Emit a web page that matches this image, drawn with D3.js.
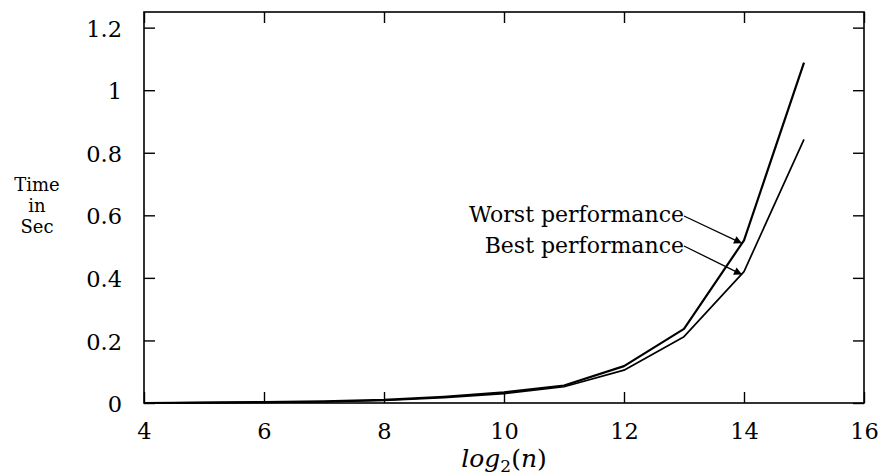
<!DOCTYPE html>
<html>
<head>
<meta charset="utf-8">
<script src="https://cdn.jsdelivr.net/npm/d3@7"></script>
<style>
  html, body { margin: 0; padding: 0; background: #fff; }
  svg { display: block; }
  text { font-family: "DejaVu Serif", "Liberation Serif", serif; fill: #000; }
</style>
</head>
<body>
<script>
// ---- data ----
const xValues = [4, 5, 6, 7, 8, 9, 10, 11, 12, 13, 14, 15];
const worstTimes = [0, 0.001, 0.003, 0.005, 0.010, 0.020, 0.034, 0.056, 0.118, 0.237, 0.520, 1.088];
const bestTimes  = [0, 0.001, 0.002, 0.004, 0.008, 0.017, 0.030, 0.052, 0.105, 0.212, 0.420, 0.843];
const xTicks = [4, 6, 8, 10, 12, 14, 16];
const yTicks = [0, 0.2, 0.4, 0.6, 0.8, 1, 1.2];
const seriesNames = ["Worst performance", "Best performance"];
const yLabelLines = ["Time", "in", "Sec"];
const annotatedX = 14;

const W = 883, H = 476;
const margin = { left: 144, top: 12, right: 19, bottom: 73 };
const iw = W - margin.left - margin.right;
const ih = H - margin.top - margin.bottom;

const svg = d3.select("body").append("svg").attr("width", W).attr("height", H);
const g = svg.append("g").attr("transform", `translate(${margin.left},${margin.top})`);

const x = d3.scaleLinear().domain([4, 16]).range([0, iw]);
const y = d3.scaleLinear().domain([0, 1.25]).range([ih, 0]);

const fmt = d => String(d);
const TL = 11;

// axes
const axB = g.append("g").attr("transform", `translate(0,${ih})`)
  .call(d3.axisBottom(x).tickValues(xTicks).tickFormat(fmt).tickSize(-TL).tickPadding(25));
const axT = g.append("g")
  .call(d3.axisTop(x).tickValues(xTicks).tickFormat("").tickSize(-TL));
const axL = g.append("g")
  .call(d3.axisLeft(y).tickValues(yTicks).tickFormat(fmt).tickSize(-TL).tickPadding(22));
const axR = g.append("g").attr("transform", `translate(${iw},0)`)
  .call(d3.axisRight(y).tickValues(yTicks).tickFormat("").tickSize(-TL));

[axB, axT, axL, axR].forEach(a => {
  a.select(".domain").remove();
  a.selectAll(".tick line").attr("stroke", "#000").attr("stroke-width", 1.4);
  a.selectAll(".tick text").style("font-family", '"DejaVu Serif", serif').style("font-size", "22.5px").attr("fill", "#000");
});
axB.selectAll(".tick text").attr("dy", "0.5em");
axL.selectAll(".tick text").attr("dy", "0.38em");

// frame
g.append("rect").attr("x", 0).attr("y", 0).attr("width", iw).attr("height", ih)
  .attr("fill", "none").attr("stroke", "#000").attr("stroke-width", 1.6);

// lines
const line = d3.line().x(d => x(d[0])).y(d => y(d[1]));
const worstData = xValues.map((v, i) => [v, worstTimes[i]]);
const bestData = xValues.map((v, i) => [v, bestTimes[i]]);
g.append("path").datum(worstData).attr("d", line)
  .attr("fill", "none").attr("stroke", "#000").attr("stroke-width", 2.2).attr("stroke-linejoin", "round");
g.append("path").datum(bestData).attr("d", line)
  .attr("fill", "none").attr("stroke", "#000").attr("stroke-width", 1.7).attr("stroke-linejoin", "round");

// annotations
svg.append("defs").append("marker")
  .attr("id", "arr").attr("viewBox", "0 0 10 10").attr("refX", 10).attr("refY", 5)
  .attr("markerWidth", 12).attr("markerHeight", 8).attr("markerUnits", "userSpaceOnUse")
  .attr("orient", "auto")
  .append("path").attr("d", "M0,0 L10,5 L0,10 Z").attr("fill", "#000");

const idx = xValues.indexOf(annotatedX);
const ann = [
  { name: seriesNames[0], v: worstTimes[idx], ty: 222 - margin.top, sy: 216 - margin.top },
  { name: seriesNames[1], v: bestTimes[idx], ty: 253 - margin.top, sy: 246 - margin.top }
];
const textEnd = 684 - margin.left;
ann.forEach(a => {
  g.append("text").attr("x", textEnd).attr("y", a.ty).attr("text-anchor", "end")
    .style("font-size", "22px").text(a.name);
  g.append("line")
    .attr("x1", textEnd).attr("y1", a.sy)
    .attr("x2", x(annotatedX) - 2).attr("y2", y(a.v) + 3)
    .attr("stroke", "#000").attr("stroke-width", 1.3)
    .attr("marker-end", "url(#arr)");
});

// y label (three separate lines)
yLabelLines.forEach((t, i) => {
  svg.append("text").attr("x", 37).attr("y", 191 + i * 21)
    .attr("text-anchor", "middle").style("font-size", "18px").text(t);
});

// x label: log_2(n)
const xl = svg.append("text").attr("x", margin.left + x(10)).attr("y", 467)
  .attr("text-anchor", "middle").style("font-size", "25px");
xl.append("tspan").style("font-style", "italic").text("log");
xl.append("tspan").attr("dy", 5).style("font-size", "17px").text("2");
xl.append("tspan").attr("dy", -5).text("(");
xl.append("tspan").style("font-style", "italic").text("n");
xl.append("tspan").text(")");
</script>
</body>
</html>
